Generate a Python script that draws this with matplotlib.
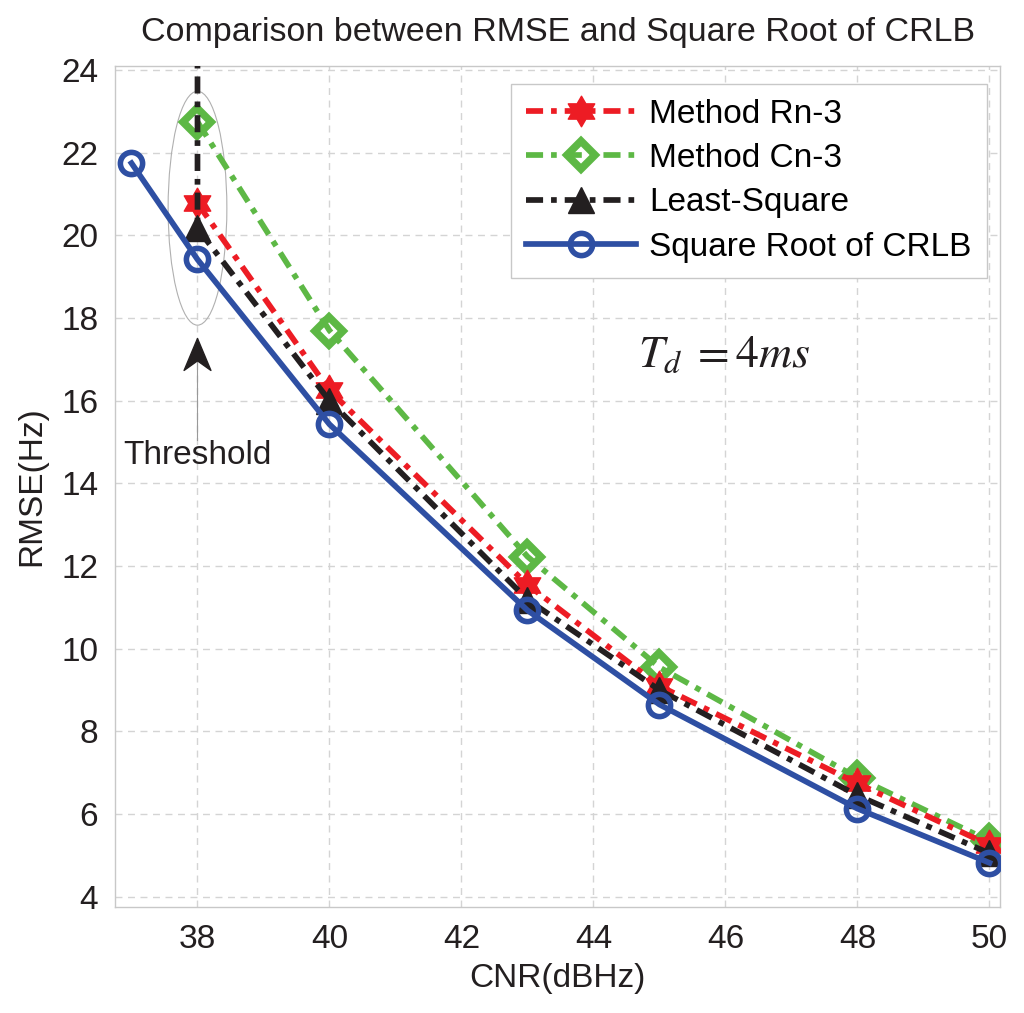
import numpy as np
import matplotlib
matplotlib.use("Agg")
import matplotlib.pyplot as plt
from matplotlib.patches import Ellipse
from matplotlib.path import Path

plt.rcParams['font.family'] = ['Liberation Sans', 'DejaVu Sans']
plt.rcParams['mathtext.fontset'] = 'stix'

# data
cnr = [38, 40, 43, 45, 48, 50]
rmse_rn3 = [20.78, 16.25, 11.55, 9.10, 6.74, 5.25]
rmse_cn3 = [22.75, 17.70, 12.23, 9.55, 6.88, 5.35]
cnr_ls = [38, 38, 40, 43, 45, 48, 50]
rmse_ls = [60.0, 20.17, 16.0, 11.19, 9.0, 6.45, 5.05]   # first point is off the scale
cnr_crlb = [37, 38, 40, 43, 45, 48, 50]
rmse_crlb = [21.75, 19.42, 15.43, 10.93, 8.65, 6.13, 4.82]

xticks = [38, 40, 42, 44, 46, 48, 50]
yticks = [4, 6, 8, 10, 12, 14, 16, 18, 20, 22, 24]

red = '#ED1C24'
green = '#5DB845'
black = '#231F20'
blue = '#2E4FA3'

fig = plt.figure(figsize=(10.24, 10.13), dpi=100)
ax = fig.add_axes([0.1123, 0.1046, 0.8643, 0.8302])

lw = 4.1
dd = (3, 1.4, 1, 1.4)
hexagram = Path.unit_regular_star(6, 0.577)

ax.plot(cnr, rmse_rn3, color=red, lw=lw, dashes=dd, dash_capstyle='butt',
        marker=hexagram, ms=22, mfc=red, mec=red, mew=1,
        label='Method Rn-3', zorder=4)
ax.plot(cnr, rmse_cn3, color=green, lw=lw, dashes=dd, dash_capstyle='butt',
        marker='D', ms=14, mfc='none', mec=green, mew=5.5,
        label='Method Cn-3', zorder=3)
ax.plot(cnr_ls, rmse_ls, color=black, lw=lw, dashes=dd, dash_capstyle='butt',
        marker='^', ms=19, mfc=black, mec=black,
        markevery=list(range(1, len(cnr_ls))), label='Least-Square', zorder=5)
ax.plot(cnr_crlb, rmse_crlb, color=blue, lw=lw, ls='-', marker='o', ms=16,
        mfc='none', mec=blue, mew=4, label='Square Root of CRLB', zorder=6)

# threshold mark
ax.add_patch(Ellipse((38, 20.66), 0.89, 5.66, fill=False, ec='#b0b0b0', lw=0.8, zorder=2))
ax.plot([38, 38], [17.53, 15.04], color='#999999', lw=0.8, zorder=2)
head = Path([(0, 0), (-0.42, -1), (0, -0.7), (0.42, -1), (0, 0)],
            [Path.MOVETO, Path.LINETO, Path.LINETO, Path.LINETO, Path.CLOSEPOLY])
ax.plot([38], [17.53], marker=head, ms=46, color=black, mec=black, zorder=7)
ax.text(38, 14.68, 'Threshold', fontsize=24, ha='center', va='center', color='#231F20')

ax.text(45.98, 17.1, r'$T_d\;=4ms$', fontsize=33, ha='center', va='center', color='#231F20')

ax.set_xlim(36.75, 50.16)
ax.set_ylim(3.75, 24.1)
ax.set_xticks(xticks)
ax.set_yticks(yticks)
ax.tick_params(labelsize=24, length=0, pad=12, colors='#231F20')
ax.grid(True, ls=(0, (5, 4)), color='#d4d4d4', lw=1.0)
for s in ax.spines.values():
    s.set_color('#c8c8c8')
    s.set_linewidth(1.0)

ax.set_xlabel('CNR(dBHz)', fontsize=24, color='#231F20', labelpad=6)
ax.set_ylabel('RMSE(Hz)', fontsize=24, color='#231F20', labelpad=10)
ax.set_title('Comparison between RMSE and Square Root of CRLB', fontsize=24.5,
             color='#231F20', pad=18)

leg = ax.legend(loc='upper right', bbox_to_anchor=(0.985, 0.979), borderaxespad=0,
                fontsize=24, handlelength=3.3, handletextpad=0.4, labelspacing=0.4,
                fancybox=False, edgecolor='#c8c8c8', framealpha=1, borderpad=0.45)
leg.get_frame().set_linewidth(1.0)

fig.savefig('out.png', dpi=100)
